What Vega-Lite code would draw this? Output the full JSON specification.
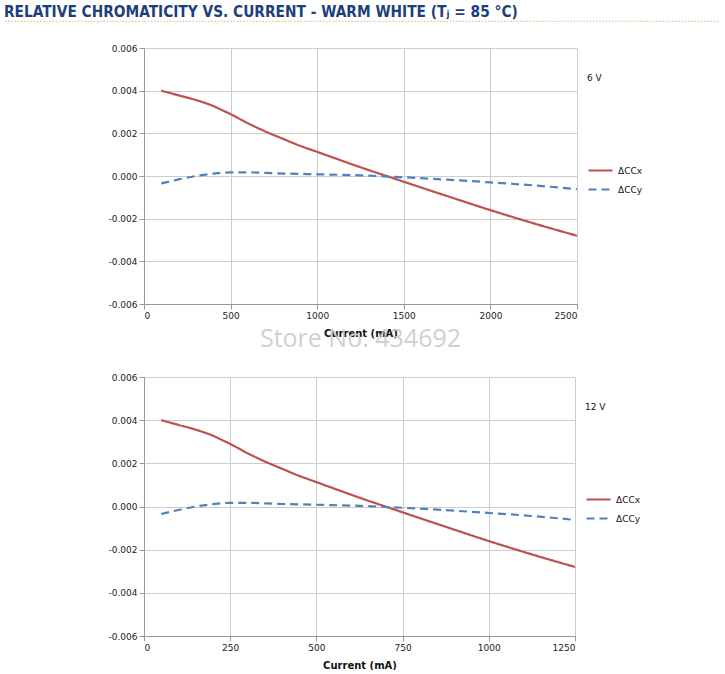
{
  "$schema": "https://vega.github.io/schema/vega-lite/v6.json",
  "padding": {"left": 3, "top": 4, "right": 0, "bottom": 0},
  "background": "white",
  "title": {
    "text": "RELATIVE CHROMATICITY VS. CURRENT - WARM WHITE (Tⱼ = 85 °C)",
    "subtitle": ".................................................................................................................................................................................................................................",
    "anchor": "start",
    "frame": "bounds",
    "dx": -104,
    "font": "DejaVu Sans Condensed",
    "fontSize": 15.3,
    "fontWeight": "bold",
    "color": "#1d3f7c",
    "subtitleFont": "DejaVu Sans",
    "subtitleFontSize": 10,
    "subtitleColor": "#d2c26c",
    "subtitlePadding": -6,
    "offset": 20
  },
  "config": {
    "view": {"stroke": null},
    "locale": {"number": {"decimal": ".", "thousands": ",", "grouping": [3], "currency": ["$", ""], "minus": "-"}},
    "axis": {
      "labelFont": "DejaVu Sans",
      "labelFontSize": 9,
      "labelColor": "#222222",
      "titleFont": "DejaVu Sans",
      "titleFontSize": 10,
      "titleFontWeight": "bold",
      "titleColor": "#111111",
      "gridColor": "#cccccc",
      "domainColor": "#999999",
      "tickColor": "#999999",
      "tickSize": 5,
      "labelPadding": 2
    },
    "legend": {
      "titleFont": "DejaVu Sans",
      "titleFontSize": 9,
      "titleFontWeight": "normal",
      "titleColor": "#111111",
      "labelFont": "DejaVu Sans",
      "labelFontSize": 9,
      "labelColor": "#111111",
      "symbolType": "stroke",
      "symbolSize": 576,
      "symbolStrokeWidth": 2.2,
      "labelOffset": 4
    }
  },
  "datasets": {
    "v6": [
      {"current": 100, "series": "ΔCCx", "value": 0.0040},
      {"current": 200, "series": "ΔCCx", "value": 0.00378},
      {"current": 300, "series": "ΔCCx", "value": 0.00356},
      {"current": 350, "series": "ΔCCx", "value": 0.00343},
      {"current": 400, "series": "ΔCCx", "value": 0.00328},
      {"current": 450, "series": "ΔCCx", "value": 0.00309},
      {"current": 500, "series": "ΔCCx", "value": 0.0029},
      {"current": 600, "series": "ΔCCx", "value": 0.00247},
      {"current": 700, "series": "ΔCCx", "value": 0.00209},
      {"current": 800, "series": "ΔCCx", "value": 0.00175},
      {"current": 900, "series": "ΔCCx", "value": 0.00142},
      {"current": 1000, "series": "ΔCCx", "value": 0.00113},
      {"current": 1100, "series": "ΔCCx", "value": 0.00084},
      {"current": 1200, "series": "ΔCCx", "value": 0.00055},
      {"current": 1300, "series": "ΔCCx", "value": 0.00027},
      {"current": 1400, "series": "ΔCCx", "value": 0.0},
      {"current": 1500, "series": "ΔCCx", "value": -0.00027},
      {"current": 1750, "series": "ΔCCx", "value": -0.00094},
      {"current": 2000, "series": "ΔCCx", "value": -0.0016},
      {"current": 2250, "series": "ΔCCx", "value": -0.00222},
      {"current": 2500, "series": "ΔCCx", "value": -0.0028},
      {"current": 100, "series": "ΔCCy", "value": -0.00035},
      {"current": 200, "series": "ΔCCy", "value": -0.00016},
      {"current": 300, "series": "ΔCCy", "value": 0.0},
      {"current": 400, "series": "ΔCCy", "value": 0.00011},
      {"current": 500, "series": "ΔCCy", "value": 0.00017},
      {"current": 600, "series": "ΔCCy", "value": 0.00017},
      {"current": 750, "series": "ΔCCy", "value": 0.00013},
      {"current": 1000, "series": "ΔCCy", "value": 0.00008},
      {"current": 1250, "series": "ΔCCy", "value": 0.00003},
      {"current": 1500, "series": "ΔCCy", "value": -0.00006},
      {"current": 1750, "series": "ΔCCy", "value": -0.00017},
      {"current": 2000, "series": "ΔCCy", "value": -0.0003},
      {"current": 2250, "series": "ΔCCy", "value": -0.00044},
      {"current": 2500, "series": "ΔCCy", "value": -0.00062}
    ],
    "v12": [
      {"current": 50, "series": "ΔCCx", "value": 0.0040},
      {"current": 100, "series": "ΔCCx", "value": 0.00378},
      {"current": 150, "series": "ΔCCx", "value": 0.00356},
      {"current": 175, "series": "ΔCCx", "value": 0.00343},
      {"current": 200, "series": "ΔCCx", "value": 0.00328},
      {"current": 225, "series": "ΔCCx", "value": 0.00309},
      {"current": 250, "series": "ΔCCx", "value": 0.0029},
      {"current": 300, "series": "ΔCCx", "value": 0.00247},
      {"current": 350, "series": "ΔCCx", "value": 0.00209},
      {"current": 400, "series": "ΔCCx", "value": 0.00175},
      {"current": 450, "series": "ΔCCx", "value": 0.00142},
      {"current": 500, "series": "ΔCCx", "value": 0.00113},
      {"current": 550, "series": "ΔCCx", "value": 0.00084},
      {"current": 600, "series": "ΔCCx", "value": 0.00055},
      {"current": 650, "series": "ΔCCx", "value": 0.00027},
      {"current": 700, "series": "ΔCCx", "value": 0.0},
      {"current": 750, "series": "ΔCCx", "value": -0.00027},
      {"current": 875, "series": "ΔCCx", "value": -0.00094},
      {"current": 1000, "series": "ΔCCx", "value": -0.0016},
      {"current": 1125, "series": "ΔCCx", "value": -0.00222},
      {"current": 1250, "series": "ΔCCx", "value": -0.0028},
      {"current": 50, "series": "ΔCCy", "value": -0.00035},
      {"current": 100, "series": "ΔCCy", "value": -0.00016},
      {"current": 150, "series": "ΔCCy", "value": 0.0},
      {"current": 200, "series": "ΔCCy", "value": 0.00011},
      {"current": 250, "series": "ΔCCy", "value": 0.00017},
      {"current": 300, "series": "ΔCCy", "value": 0.00017},
      {"current": 375, "series": "ΔCCy", "value": 0.00013},
      {"current": 500, "series": "ΔCCy", "value": 0.00008},
      {"current": 625, "series": "ΔCCy", "value": 0.00003},
      {"current": 750, "series": "ΔCCy", "value": -0.00006},
      {"current": 875, "series": "ΔCCy", "value": -0.00017},
      {"current": 1000, "series": "ΔCCy", "value": -0.0003},
      {"current": 1125, "series": "ΔCCy", "value": -0.00044},
      {"current": 1250, "series": "ΔCCy", "value": -0.00062}
    ],
    "mark": [{"label": "Store No. 434692"}]
  },
  "vconcat": [
    {
      "width": 433,
      "height": 256,
      "layer": [
        {
          "data": {"name": "v6"},
          "mark": {"type": "line", "interpolate": "monotone", "strokeWidth": 2.2},
          "encoding": {
            "x": {
              "field": "current", "type": "quantitative",
              "scale": {"domain": [0, 2500], "nice": false},
              "axis": {"values": [0, 500, 1000, 1500, 2000, 2500], "format": "d", "title": "Current (mA)", "titlePadding": 8}
            },
            "y": {
              "field": "value", "type": "quantitative",
              "scale": {"domain": [-0.006, 0.006], "nice": false},
              "axis": {"values": [-0.006, -0.004, -0.002, 0, 0.002, 0.004, 0.006], "format": ".3f", "title": null}
            },
            "color": {
              "field": "series", "type": "nominal", "title": "6 V",
              "scale": {"domain": ["ΔCCx", "ΔCCy"], "range": ["#c0504d", "#4f81bd"]},
              "legend": {"orient": "none", "legendX": 443, "legendY": 26, "titlePadding": 74, "rowPadding": -12}
            },
            "strokeDash": {
              "field": "series", "type": "nominal", "title": "6 V",
              "scale": {"domain": ["ΔCCx", "ΔCCy"], "range": [[1, 0], [8, 5]]},
              "legend": {"orient": "none", "legendX": 443, "legendY": 26, "titlePadding": 74, "rowPadding": -12}
            }
          }
        },
        {
          "data": {"name": "mark"},
          "mark": {"type": "text", "font": "Open Sans", "fontSize": 25, "color": "#c8c8c8", "opacity": 0.85},
          "encoding": {
            "x": {"datum": 1250, "type": "quantitative"},
            "y": {"datum": -0.00765, "type": "quantitative"},
            "text": {"field": "label"}
          }
        }
      ]
    },
    {
      "width": 431,
      "height": 259,
      "data": {"name": "v12"},
      "mark": {"type": "line", "interpolate": "monotone", "strokeWidth": 2.2},
      "encoding": {
        "x": {
          "field": "current", "type": "quantitative",
          "scale": {"domain": [0, 1250], "nice": false},
          "axis": {"values": [0, 250, 500, 750, 1000, 1250], "format": "d", "title": "Current (mA)", "titlePadding": 8}
        },
        "y": {
          "field": "value", "type": "quantitative",
          "scale": {"domain": [-0.006, 0.006], "nice": false},
          "axis": {"values": [-0.006, -0.004, -0.002, 0, 0.002, 0.004, 0.006], "format": ".3f", "title": null}
        },
        "color": {
          "field": "series", "type": "nominal", "title": "12 V",
          "scale": {"domain": ["ΔCCx", "ΔCCy"], "range": ["#c0504d", "#4f81bd"]},
          "legend": {"orient": "none", "legendX": 441, "legendY": 26, "titlePadding": 74, "rowPadding": -12}
        },
        "strokeDash": {
          "field": "series", "type": "nominal", "title": "12 V",
          "scale": {"domain": ["ΔCCx", "ΔCCy"], "range": [[1, 0], [8, 5]]},
          "legend": {"orient": "none", "legendX": 441, "legendY": 26, "titlePadding": 74, "rowPadding": -12}
        }
      }
    }
  ],
  "spacing": 73,
  "bounds": "flush",
  "resolve": {"scale": {"color": "independent", "strokeDash": "independent"}}
}
